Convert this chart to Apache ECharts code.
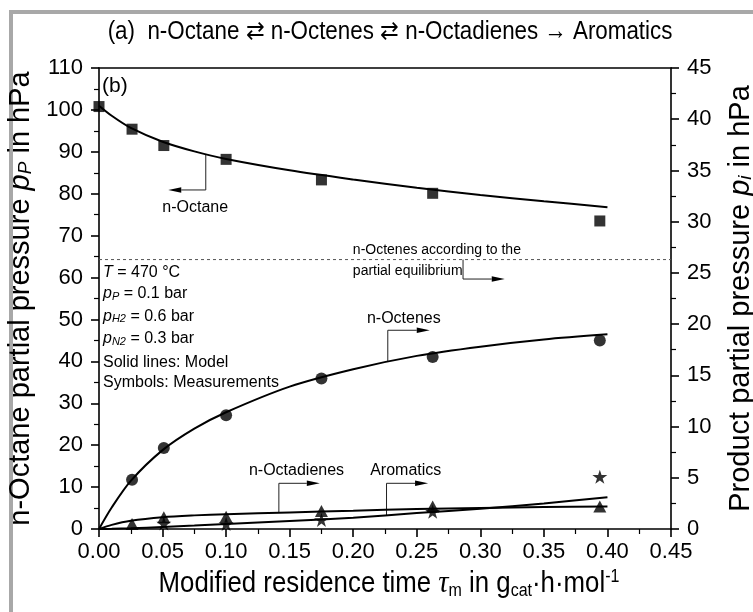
<!DOCTYPE html>
<html>
<head>
<meta charset="utf-8">
<script src="https://cdn.jsdelivr.net/npm/echarts@6/dist/echarts.min.js"></script>
<style>
	html, body { margin: 0; padding: 0; background: #fff; }
	#chart { width: 753px; height: 612px; }
</style>
</head>
<body>
<div id="chart"></div>
<script>
	// measurements
	var tauOctane = [0, 0.026, 0.051, 0.1, 0.175, 0.2625, 0.394];
	var octane = [100.8, 95.4, 91.5, 88.2, 83.3, 80.1, 73.5];
	var tauProd = [0.026, 0.051, 0.1, 0.175, 0.2625, 0.394];
	var octenes = [4.8, 7.9, 11.1, 14.7, 16.8, 18.4];
	var octadienes = [0.5, 1.15, 1.2, 1.75, 2.2, 2.2];
	var aromatics = [null, 0.55, 0.5, 0.9, 1.7, 5.1];

	// model curves
	var tauModel = [0, 0.01, 0.025, 0.05, 0.075, 0.1, 0.15, 0.2, 0.25, 0.3, 0.35, 0.4];
	var octaneModel = [101, 98.6, 95.7, 92.4, 90.1, 88.3, 85.6, 83.4, 81.4, 79.7, 78.2, 76.8];
	var octenesModel = [0, 2.1, 4.7, 7.7, 9.8, 11.4, 13.9, 15.6, 16.9, 17.8, 18.5, 19.0];
	var octadienesModel = [0, 0.4, 0.8, 1.15, 1.33, 1.45, 1.62, 1.78, 1.95, 2.06, 2.14, 2.2];
	var aromaticsModel = [0, 0.02, 0.07, 0.2, 0.33, 0.48, 0.78, 1.1, 1.55, 1.98, 2.5, 3.1];

	var equilibrium = 26.3; // n-octenes, partial equilibrium (right axis)

	var leftTicks = [0, 110, 10];
	var rightTicks = [0, 45, 5];
	var xTicks = [0, 0.45, 0.05];

	function pairs(xs, ys) {
		var out = [];
		for (var i = 0; i < xs.length; i++) {
			if (ys[i] !== null) out.push([xs[i], ys[i]]);
		}
		return out;
	}

	var SANS = 'Liberation Sans, Arial, sans-serif';
	var STAR = 'path://M50,0 L61,35 L98,35 L68,57 L79,91 L50,70 L21,91 L32,57 L2,35 L39,35 Z';

	var chart = echarts.init(document.getElementById('chart'));

	var axisCommon = {
		type: 'value',
		splitLine: { show: false },
		axisLine: { show: true, onZero: false, lineStyle: { color: '#000', width: 1.6 } },
		axisTick: { show: true, inside: false, length: 8, lineStyle: { color: '#000', width: 1.6 } },
		minorTick: { show: true, splitNumber: 2, length: 5, lineStyle: { color: '#000', width: 1.2 } },
		axisLabel: { color: '#000', fontSize: 22, fontFamily: SANS }
	};
	var nameRich = {
		it: { fontSize: 29, fontStyle: 'italic', fontFamily: SANS, color: '#000' },
		sub: { fontSize: 19, fontStyle: 'italic', fontFamily: SANS, verticalAlign: 'bottom', lineHeight: 18, color: '#000' }
	};

	var option = {
		animation: false,
		backgroundColor: '#fff',
		grid: { left: 99, right: 82, top: 68, bottom: 83, containLabel: false, outerBoundsMode: 'none' },
		xAxis: [
			echarts.util.merge({
				min: xTicks[0], max: xTicks[1], interval: xTicks[2],
				position: 'bottom',
				axisLabel: { margin: 12, formatter: function (v) { return v.toFixed(2); } }
			}, axisCommon, false),
			{
				type: 'value', position: 'top', min: xTicks[0], max: xTicks[1],
				axisLine: { show: true, onZero: false, lineStyle: { color: '#000', width: 1.6 } },
				axisTick: { show: false }, axisLabel: { show: false }, splitLine: { show: false }
			}
		],
		yAxis: [
			echarts.util.merge({
				min: leftTicks[0], max: leftTicks[1], interval: leftTicks[2],
				position: 'left',
				axisLabel: { margin: 16 },
				name: 'n-Octane partial pressure {it|p}{sub|P} in hPa',
				nameLocation: 'middle',
				nameGap: 35,
				nameTextStyle: { color: '#000', fontSize: 29, fontFamily: SANS, rich: nameRich }
			}, axisCommon, false),
			echarts.util.merge({
				min: rightTicks[0], max: rightTicks[1], interval: rightTicks[2],
				position: 'right',
				axisLabel: { margin: 16 },
				name: 'Product partial pressure {it|p}{sub|i} in hPa',
				nameLocation: 'middle',
				nameGap: 55,
				nameRotate: 90,
				nameTextStyle: { color: '#000', fontSize: 29, fontFamily: SANS, rich: nameRich }
			}, axisCommon, false)
		],
		series: [
			{
				type: 'line', yAxisIndex: 1, data: [[xTicks[0], equilibrium], [xTicks[1], equilibrium]],
				symbol: 'none', lineStyle: { color: '#555', width: 1, type: [3, 3] }
			},
			{ type: 'line', yAxisIndex: 0, data: pairs(tauModel, octaneModel), smooth: 0.3, symbol: 'none', lineStyle: { color: '#000', width: 2 } },
			{ type: 'line', yAxisIndex: 1, data: pairs(tauModel, octenesModel), smooth: 0.3, symbol: 'none', lineStyle: { color: '#000', width: 2 } },
			{ type: 'line', yAxisIndex: 1, data: pairs(tauModel, octadienesModel), smooth: 0.3, symbol: 'none', lineStyle: { color: '#000', width: 2 } },
			{ type: 'line', yAxisIndex: 1, data: pairs(tauModel, aromaticsModel), smooth: 0.3, symbol: 'none', lineStyle: { color: '#000', width: 2 } },
			{ type: 'scatter', yAxisIndex: 1, data: pairs(tauProd, aromatics), symbol: STAR, symbolKeepAspect: true, symbolSize: 15, itemStyle: { color: '#000' } },
			{ type: 'scatter', yAxisIndex: 1, data: pairs(tauProd, octadienes), symbol: 'triangle', symbolSize: [13, 12], itemStyle: { color: '#000' } },
			{ type: 'scatter', yAxisIndex: 1, data: pairs(tauProd, octenes), symbol: 'circle', symbolSize: 12, itemStyle: { color: '#000' } },
			{ type: 'scatter', yAxisIndex: 0, data: pairs(tauOctane, octane), symbol: 'rect', symbolSize: 11, itemStyle: { color: '#000' } }
		]
	};
	chart.setOption(option);

	// annotations: leader lines [points in data coords], axis index
	var leaders = [
		{ axis: 0, pts: [[0.084, 89.4], [0.084, 80.9], [0.0545, 80.9]] },
		{ axis: 1, pts: [[0.2864, 26.3], [0.2864, 24.4], [0.3192, 24.4]] },
		{ axis: 1, pts: [[0.2272, 16.3], [0.2272, 19.4], [0.2602, 19.4]] },
		{ axis: 1, pts: [[0.1415, 1.6], [0.1415, 4.46], [0.1737, 4.46]] },
		{ axis: 1, pts: [[0.2262, 1.33], [0.2262, 4.46], [0.2589, 4.46]] }
	];
	var labels = [
		{ axis: 0, at: [0.0757, 76.6], text: 'n-Octane', align: 'center', size: 16 },
		{ axis: 1, at: [0.1997, 27.2], text: 'n-Octenes according to the', align: 'left', size: 14 },
		{ axis: 1, at: [0.1997, 25.2], text: 'partial equilibrium', align: 'left', size: 14 },
		{ axis: 1, at: [0.2398, 20.5], text: 'n-Octenes', align: 'center', size: 16 },
		{ axis: 1, at: [0.1554, 5.69], text: 'n-Octadienes', align: 'center', size: 16 },
		{ axis: 1, at: [0.2413, 5.69], text: 'Aromatics', align: 'center', size: 16 }
	];

	function px(p, axis) {
		return chart.convertToPixel({ xAxisIndex: 0, yAxisIndex: axis }, p);
	}

	var g = [];
	// grey frame
	g.push({ type: 'rect', shape: { x: 9, y: 10, width: 760, height: 4 }, style: { fill: '#a8a8a8' } });
	g.push({ type: 'rect', shape: { x: 9, y: 10, width: 4, height: 620 }, style: { fill: '#a8a8a8' } });

	leaders.forEach(function (l) {
		var pts = l.pts.map(function (p) { return px(p, l.axis); });
		var a = pts[pts.length - 2], b = pts[pts.length - 1];
		var dir = b[0] > a[0] ? 1 : -1;
		var tip = b;
		var base = [b[0] - dir * 13, b[1]];
		var line = pts.slice(0, pts.length - 1).concat([base]);
		g.push({ type: 'polyline', shape: { points: line }, style: { stroke: '#222', lineWidth: 1, fill: null } });
		g.push({ type: 'polygon', shape: { points: [tip, [base[0], base[1] - 2.8], [base[0], base[1] + 2.8]] }, style: { fill: '#000' } });
	});

	labels.forEach(function (t) {
		var p = px(t.at, t.axis);
		g.push({
			type: 'text', x: p[0], y: p[1],
			style: { text: t.text, fill: '#000', font: t.size + 'px ' + SANS, textAlign: t.align, textVerticalAlign: 'middle' }
		});
	});

	// conditions block
	var condLines = [
		'{i|T} = 470 °C',
		'{i|p}{s|P} = 0.1 bar',
		'{i|p}{s|H2} = 0.6 bar',
		'{i|p}{s|N2} = 0.3 bar',
		'Solid lines: Model',
		'Symbols: Measurements'
	];
	var condY = [272.7, 294, 316.5, 339, 362.7, 383];
	condLines.forEach(function (s, i) {
		g.push({
			type: 'text', x: 103, y: condY[i],
			style: {
				text: s, fill: '#000', fontSize: 16, fontFamily: SANS, textAlign: 'left', textVerticalAlign: 'middle',
				rich: {
					i: { fontSize: 16, fontStyle: 'italic', fontFamily: SANS, fill: '#000' },
					s: { fontSize: 11, fontStyle: 'italic', fontFamily: SANS, verticalAlign: 'bottom', lineHeight: 10, fill: '#000' }
				}
			}
		});
	});

	// panel labels
	g.push({ type: 'text', x: 102, y: 86, style: { text: '(b)', fill: '#000', font: '21px ' + SANS, textAlign: 'left', textVerticalAlign: 'middle' } });
	g.push({
		type: 'text', x: 390, y: 32, scaleX: 0.86,
		style: {
			text: '(a)  n-Octane ⇄ n-Octenes ⇄ n-Octadienes → Aromatics',
			fill: '#000', font: '26px ' + SANS, textAlign: 'center', textVerticalAlign: 'middle'
		}
	});
	// x-axis title (condensed like the original)
	g.push({
		type: 'text', x: 389, y: 584, scaleX: 0.89,
		style: {
			text: 'Modified residence time {tau|τ}{sub|m} in g{sub|cat}·h·mol{sup|-1}',
			fill: '#000', fontSize: 29, fontFamily: SANS, textAlign: 'center', textVerticalAlign: 'middle',
			rich: {
				tau: { fontSize: 32, fontStyle: 'italic', fontFamily: 'Liberation Serif, serif', fill: '#000' },
				sub: { fontSize: 18, fontFamily: SANS, verticalAlign: 'bottom', lineHeight: 16, fill: '#000' },
				sup: { fontSize: 18, fontFamily: SANS, verticalAlign: 'top', lineHeight: 16, fill: '#000' }
			}
		}
	});

	chart.setOption({ graphic: g });
</script>
</body>
</html>
